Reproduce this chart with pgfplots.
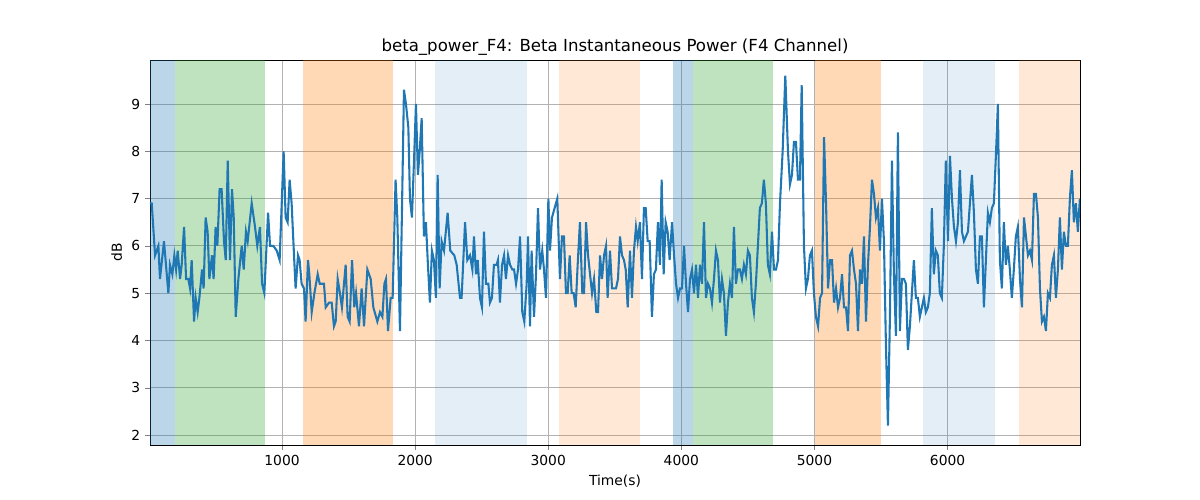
\documentclass[border=0pt]{standalone}
\usepackage{pgfplots}
\pgfplotsset{compat=1.18}
\usepackage{fontspec}
\setmainfont{DejaVu Sans}
\definecolor{c0}{HTML}{1F77B4}
\definecolor{c1}{HTML}{FF7F0E}
\definecolor{c2}{HTML}{2CA02C}
\begin{document}
\begin{tikzpicture}
\begin{axis}[
  scale only axis, width=9.3in, height=3.85in,
  xmin=8, xmax=6995, ymin=1.79, ymax=9.93,
  xtick={1000,2000,3000,4000,5000,6000}, ytick={2,3,4,5,6,7,8,9},
  grid=major, grid style={color=black!30, line width=0.6pt},
  tick align=outside, tick pos=left,
  major tick length=3.5pt,
  ticklabel style={font=\fontsize{10}{12}\selectfont},
  /pgf/number format/assume math mode=true,
  scaled x ticks=false, xticklabel style={/pgf/number format/1000 sep={}},
  xlabel={Time(s)}, ylabel={dB},
  label style={font=\fontsize{10}{12}\selectfont},
  title={beta\_power\_F4: Beta Instantaneous Power (F4 Channel)},
  title style={font=\fontsize{12}{14}\selectfont, yshift=-6pt},
  axis line style={line width=0.6pt},
  clip=true,
]
\coordinate (bl) at (rel axis cs:0,0);
\fill[c0, opacity=0.3] (axis cs:8,1.79) rectangle (axis cs:194,9.93);
\fill[c2, opacity=0.3] (axis cs:194,1.79) rectangle (axis cs:875,9.93);
\fill[c1, opacity=0.3] (axis cs:1160,1.79) rectangle (axis cs:1830,9.93);
\fill[c0, opacity=0.12] (axis cs:2150,1.79) rectangle (axis cs:2837,9.93);
\fill[c1, opacity=0.17] (axis cs:3081,1.79) rectangle (axis cs:3692,9.93);
\fill[c0, opacity=0.3] (axis cs:3938,1.79) rectangle (axis cs:4089,9.93);
\fill[c2, opacity=0.3] (axis cs:4089,1.79) rectangle (axis cs:4692,9.93);
\fill[c1, opacity=0.3] (axis cs:5005,1.79) rectangle (axis cs:5497,9.93);
\fill[c0, opacity=0.12] (axis cs:5818,1.79) rectangle (axis cs:6360,9.93);
\fill[c1, opacity=0.17] (axis cs:6540,1.79) rectangle (axis cs:6995,9.93);
\addplot[c0, line width=1.5pt, mark=none] coordinates {
(8,6.9)(21,6.9)(46,5.8)(71,6.0)(83,5.3)(113,6.1)(146,5.0)(158,5.6)(176,5.4)(191,5.8)(204,5.5)(216,5.9)(234,5.3)(246,5.6)(264,6.4)(279,5.3)(296,5.3)(309,5.1)(321,5.7)(339,4.4)(351,4.9)(366,4.6)(379,4.9)(399,5.5)(411,5.1)(426,6.6)(441,6.3)(454,5.3)(474,5.8)(486,5.3)(501,6.4)(514,6.0)(531,7.2)(546,7.2)(564,6.1)(577,5.7)(592,7.8)(609,5.7)(624,7.2)(637,6.6)(652,4.5)(672,5.3)(697,6.0)(712,5.5)(729,6.3)(742,6.1)(772,6.9)(797,6.4)(814,6.0)(834,6.4)(850,5.2)(867,5.0)(895,6.7)(910,6.0)(935,6.0)(960,5.9)(982,5.7)(1012,8.0)(1027,6.6)(1042,6.5)(1057,7.4)(1072,6.9)(1090,5.8)(1102,5.1)(1120,5.8)(1132,5.7)(1147,5.2)(1165,5.1)(1177,4.4)(1195,5.7)(1205,5.4)(1223,4.6)(1243,5.0)(1268,5.4)(1283,5.2)(1315,5.2)(1328,4.7)(1353,4.8)(1373,4.8)(1390,4.3)(1403,4.4)(1418,5.3)(1435,5.0)(1450,4.7)(1478,5.6)(1493,4.5)(1508,4.4)(1526,5.7)(1543,4.7)(1556,5.0)(1578,4.3)(1598,5.1)(1616,4.3)(1641,5.5)(1666,5.3)(1686,4.7)(1716,4.4)(1736,4.6)(1754,4.5)(1769,5.2)(1781,5.3)(1796,4.2)(1816,4.9)(1831,4.9)(1853,7.4)(1866,6.6)(1886,4.2)(1916,9.3)(1931,9.0)(1949,8.5)(1961,7.0)(1976,6.6)(1994,8.0)(2006,9.0)(2021,7.5)(2034,8.0)(2049,8.7)(2066,6.2)(2081,6.5)(2096,5.6)(2111,4.8)(2126,5.9)(2141,5.7)(2156,4.9)(2169,7.5)(2184,5.1)(2199,6.1)(2217,5.9)(2244,6.7)(2264,5.9)(2294,5.8)(2312,5.6)(2337,4.9)(2349,4.9)(2375,6.5)(2392,5.7)(2412,5.8)(2430,5.5)(2442,6.2)(2457,5.4)(2470,5.7)(2487,4.9)(2502,4.7)(2517,6.3)(2532,5.2)(2550,5.2)(2562,4.8)(2577,4.9)(2592,5.6)(2612,5.6)(2622,5.7)(2637,4.8)(2653,5.6)(2668,5.8)(2682,5.3)(2698,5.8)(2713,5.6)(2730,5.5)(2743,5.5)(2758,5.2)(2773,5.5)(2788,6.2)(2805,4.6)(2820,4.4)(2838,5.2)(2848,6.2)(2863,4.3)(2875,5.9)(2893,4.5)(2908,5.4)(2923,6.8)(2938,5.5)(2955,5.9)(2968,5.5)(2983,4.9)(3001,7.0)(3013,5.9)(3028,6.6)(3048,6.8)(3068,7.0)(3088,5.3)(3103,6.2)(3118,6.2)(3133,5.0)(3146,5.0)(3161,5.8)(3176,5.0)(3191,5.0)(3206,4.7)(3221,5.6)(3238,6.5)(3256,5.0)(3269,5.0)(3284,6.5)(3299,5.8)(3314,5.4)(3329,5.0)(3344,5.3)(3361,4.6)(3374,4.6)(3389,5.8)(3404,5.3)(3419,5.8)(3434,6.0)(3446,4.9)(3464,5.9)(3479,5.1)(3494,5.1)(3509,5.1)(3524,5.3)(3539,6.2)(3554,5.8)(3569,5.7)(3582,5.5)(3597,4.7)(3614,5.9)(3629,4.9)(3644,5.9)(3659,6.4)(3672,6.1)(3689,6.5)(3704,5.3)(3719,6.8)(3732,6.8)(3747,6.1)(3762,6.1)(3779,4.5)(3794,5.4)(3809,5.5)(3824,6.5)(3839,5.6)(3852,7.4)(3867,5.4)(3882,6.5)(3897,6.3)(3912,5.7)(3930,6.5)(3945,5.8)(3960,5.2)(3975,4.9)(3990,5.1)(4005,5.1)(4020,6.0)(4035,5.2)(4050,4.6)(4065,5.3)(4080,5.5)(4095,5.0)(4110,5.6)(4125,4.9)(4140,5.6)(4155,5.2)(4170,6.5)(4185,4.9)(4200,5.2)(4215,5.1)(4230,4.8)(4245,5.3)(4260,5.9)(4275,5.7)(4290,4.8)(4305,5.3)(4320,5.0)(4335,4.1)(4350,4.8)(4365,5.2)(4380,4.9)(4395,6.4)(4410,5.2)(4425,5.5)(4440,5.5)(4455,5.3)(4470,5.6)(4485,5.4)(4500,5.9)(4515,5.8)(4530,4.9)(4545,4.6)(4560,5.2)(4575,6.0)(4590,6.8)(4605,6.9)(4620,7.4)(4635,6.9)(4650,5.6)(4665,5.4)(4681,6.3)(4696,5.5)(4711,5.5)(4726,5.7)(4741,6.9)(4761,8.0)(4781,9.6)(4801,8.0)(4816,7.3)(4831,7.5)(4846,8.2)(4861,8.2)(4876,7.4)(4891,7.4)(4904,9.4)(4921,6.0)(4936,5.1)(4951,5.3)(4966,5.8)(4981,5.9)(4996,5.0)(5011,4.5)(5027,4.3)(5042,4.9)(5057,5.0)(5072,8.3)(5087,6.9)(5102,5.1)(5117,5.7)(5132,5.7)(5147,4.8)(5162,5.1)(5177,4.7)(5192,4.9)(5207,5.4)(5222,4.7)(5237,4.7)(5252,4.2)(5267,5.8)(5282,5.9)(5297,5.5)(5312,5.2)(5327,4.2)(5342,5.5)(5357,5.2)(5372,6.2)(5387,4.4)(5402,5.6)(5417,6.4)(5432,7.4)(5447,7.1)(5462,6.6)(5477,6.8)(5492,5.9)(5507,7.0)(5522,6.1)(5537,3.9)(5552,2.2)(5567,4.5)(5582,7.8)(5597,5.4)(5612,4.1)(5627,8.4)(5642,4.2)(5657,5.3)(5672,5.3)(5687,5.2)(5702,3.8)(5717,4.3)(5732,5.0)(5747,5.7)(5762,4.9)(5777,4.9)(5792,4.5)(5807,4.7)(5822,4.9)(5837,4.6)(5852,4.7)(5867,5.0)(5882,6.8)(5897,5.4)(5912,5.9)(5927,5.8)(5942,5.0)(5957,4.9)(5972,6.0)(5987,7.8)(6003,6.1)(6018,7.9)(6033,7.0)(6048,6.4)(6063,6.1)(6078,6.5)(6093,7.6)(6108,6.3)(6123,6.1)(6138,6.2)(6153,6.3)(6168,6.9)(6183,7.5)(6198,6.7)(6213,5.5)(6228,5.2)(6243,6.2)(6258,6.2)(6273,4.7)(6288,5.7)(6303,6.7)(6318,6.5)(6333,6.8)(6348,6.9)(6363,7.9)(6378,9.0)(6393,5.7)(6408,5.1)(6423,6.5)(6438,5.6)(6453,6.0)(6468,5.5)(6483,4.9)(6498,5.5)(6513,6.2)(6528,6.4)(6544,5.3)(6559,4.7)(6574,6.6)(6589,6.2)(6604,5.8)(6619,5.9)(6634,5.7)(6649,7.1)(6664,7.1)(6679,6.6)(6694,5.1)(6709,4.4)(6724,4.5)(6739,4.2)(6754,5.0)(6769,4.9)(6784,5.6)(6799,5.8)(6814,4.9)(6829,5.5)(6844,6.6)(6859,5.5)(6874,6.3)(6889,6.0)(6904,6.0)(6919,7.0)(6934,7.6)(6949,6.5)(6964,6.9)(6979,6.3)(6994,7.0)
};
\end{axis}
\path[use as bounding box] (bl) ++(-1.5in,-0.55in) rectangle ++(12in,5in);
\end{tikzpicture}
\end{document}
